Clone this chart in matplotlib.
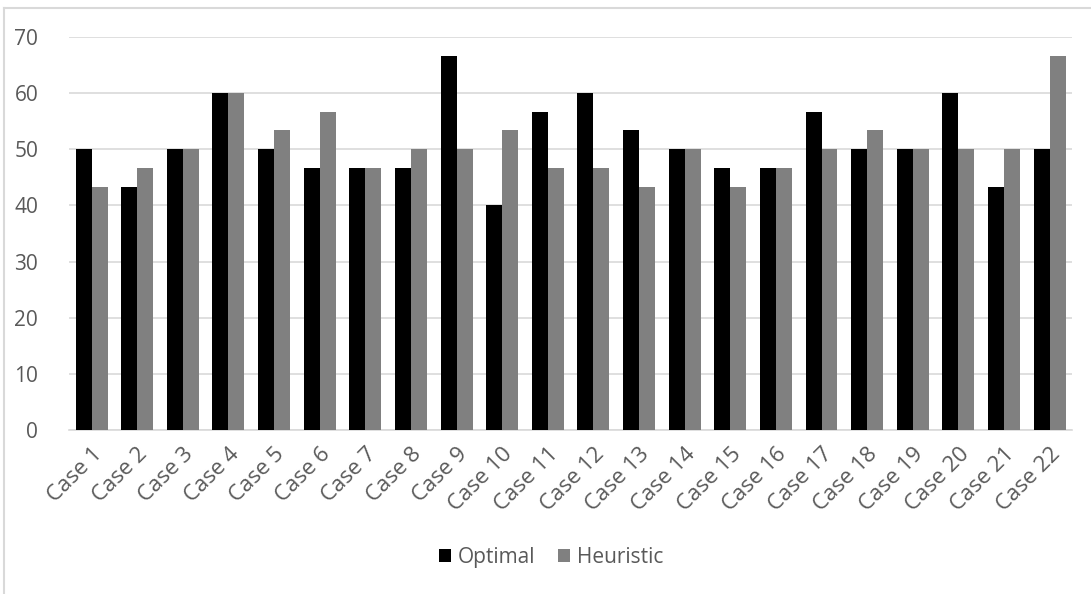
import numpy as np
import matplotlib.pyplot as plt
from matplotlib.lines import Line2D

plt.rcParams['font.family'] = ['Open Sans', 'DejaVu Sans']

cases = [f"Case {i}" for i in range(1, 23)]
optimal = [50, 43.33, 50, 60, 50, 46.67, 46.67, 46.67, 66.67, 40, 56.67,
           60, 53.33, 50, 46.67, 46.67, 56.67, 50, 50, 60, 43.33, 50]
heuristic = [43.33, 46.67, 50, 60, 53.33, 56.67, 46.67, 50, 50, 53.33, 46.67,
             46.67, 43.33, 50, 43.33, 46.67, 50, 53.33, 50, 50, 50, 66.67]

fig = plt.figure(figsize=(10.91, 5.94), dpi=100)
ax = fig.add_axes([0.063, 0.276, 0.920, 0.662])

x = np.arange(len(cases))
w = 0.35
ax.bar(x - w / 2, optimal, w, color="#000000", label="Optimal", zorder=3)
ax.bar(x + w / 2, heuristic, w, color="#808080", label="Heuristic", zorder=3)

ax.set_xlim(-0.5, len(cases) - 0.5)
ax.set_ylim(0, 70)
ax.set_yticks(range(0, 71, 10))
ax.yaxis.grid(True, color="#d9d9d9", linewidth=1.2, zorder=0)
ax.set_xticks(x)
ax.set_xticklabels(cases, rotation=45, ha="right", rotation_mode="anchor")
ax.tick_params(axis="y", length=0, labelsize=15, colors="#595959", pad=22)
ax.tick_params(axis="x", length=0, labelsize=16, colors="#595959", pad=10)
for s in ["top", "right", "left"]:
    ax.spines[s].set_visible(False)
ax.spines["bottom"].set_color("#d9d9d9")
ax.spines["bottom"].set_linewidth(1.2)

fig.legend(loc="center", bbox_to_anchor=(0.505, 0.062), ncol=2, frameon=False,
           fontsize=15, handlelength=0.6, handleheight=0.6, handletextpad=0.3,
           columnspacing=1.1, labelcolor="#595959")

# chart frame (cropped on right and bottom)
fig.add_artist(Line2D([0.004, 0.004], [0.0, 0.986], transform=fig.transFigure,
                      color="#d9d9d9", linewidth=1.5))
fig.add_artist(Line2D([0.004, 1.0], [0.986, 0.986], transform=fig.transFigure,
                      color="#d9d9d9", linewidth=1.5))

fig.savefig("out.png", dpi=100)
